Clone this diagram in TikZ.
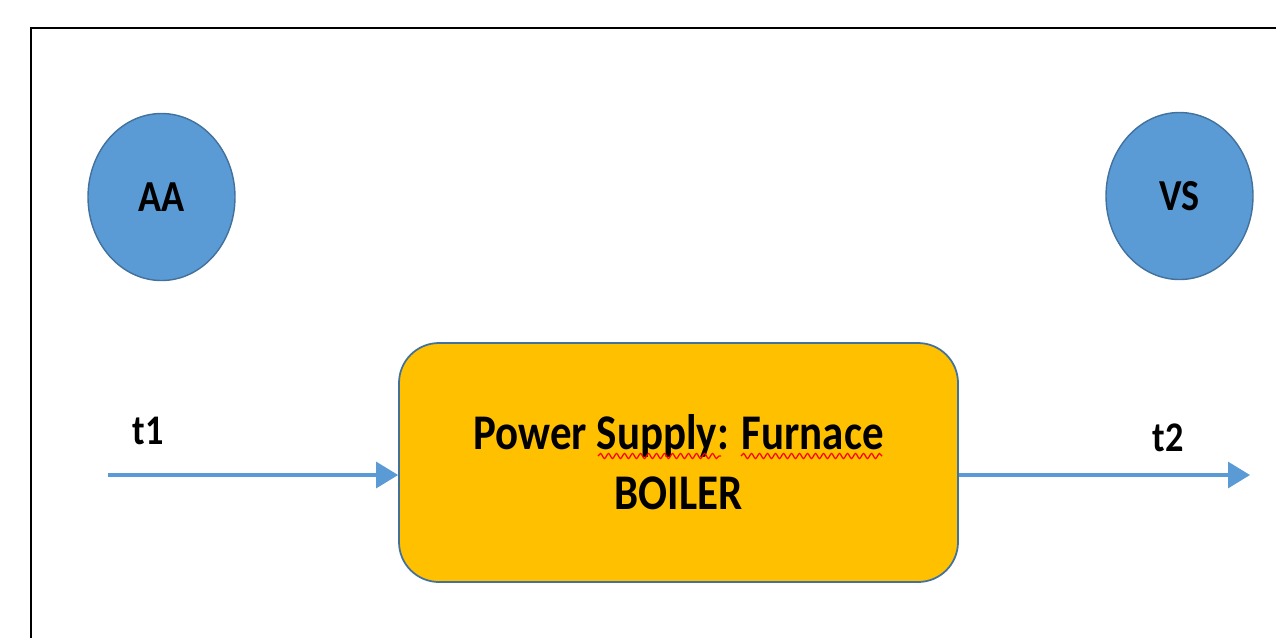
\documentclass[tikz,border=0pt]{standalone}
\usepackage{fontspec}
\setmainfont{Carlito}
\newfontfamily\narrowfont{Carlito}[FakeStretch=0.86]
\usetikzlibrary{shapes.geometric, arrows.meta, decorations.pathmorphing}

\definecolor{blobblue}{HTML}{5B9BD5}
\definecolor{blobedge}{HTML}{41719C}
\definecolor{boilerfill}{HTML}{FFC000}

\tikzset{
  blob/.style={ellipse, fill=blobblue, draw=blobedge, line width=0.4pt,
    minimum width=1.47cm, minimum height=1.67cm, inner sep=0pt,
    font=\narrowfont\bfseries\fontsize{12.6}{14}\selectfont},
  unit/.style={rectangle, rounded corners=0.4cm, fill=boilerfill, draw=blobedge,
    line width=0.5pt, minimum width=5.59cm, minimum height=2.39cm, align=center,
    font=\narrowfont\bfseries\fontsize{14.2}{17.07}\selectfont},
  flow/.style={blobblue, line width=0.9pt, -{Triangle[length=2.2mm, width=2.6mm]}},
  tag/.style={font=\narrowfont\bfseries\fontsize{12}{14}\selectfont, inner sep=0pt},
  spell/.style={red, line width=0.35pt, decorate,
    decoration={snake, segment length=0.8mm, amplitude=0.25mm}}
}

\begin{document}
\begin{tikzpicture}
  \useasboundingbox (0,0) rectangle (12.76,-6.37);
  \clip (0,0) rectangle (12.76,-6.37);

  % outer frame, runs off the page to the right and bottom
  \draw[line width=0.7pt] (0.31,-0.28) rectangle (13.5,-7);

  % the two blobs
  \node[blob] (aa) at (1.615,-1.97) {AA};
  \node[blob] (vs) at (11.795,-1.96) {VS};

  % boiler block
  \node[unit] (boiler) at (6.785,-4.625) {Power Supply: Furnace\\BOILER};
  \draw[spell] (5.98,-4.56) -- (7.21,-4.56);
  \draw[spell] (7.41,-4.56) -- (8.82,-4.56);

  % flow in and out
  \coordinate (in) at (1.08,-4.75);
  \coordinate (out) at (12.50,-4.75);
  \draw[flow] (in) -- (in -| boiler.west);
  \draw[flow] (out -| boiler.east) -- (out);
  \node[tag] (t1) at (1.48,-4.31) {t1};
  \node[tag] (t2) at (11.68,-4.38) {t2};
\end{tikzpicture}
\end{document}
